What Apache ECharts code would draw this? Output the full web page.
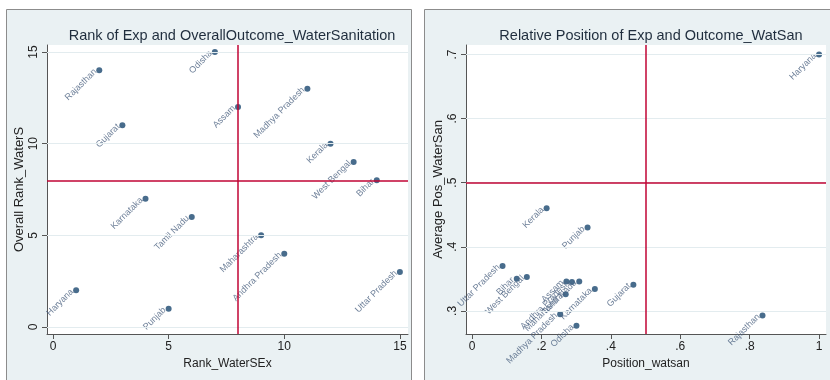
<!DOCTYPE html>
<html>
<head>
<meta charset="utf-8">
<script src="https://cdn.jsdelivr.net/npm/echarts@6/dist/echarts.min.js"></script>
<style>
  html, body { margin: 0; padding: 0; background: #fff; }
  #main { width: 830px; height: 380px; }
</style>
</head>
<body>
<div id="main"></div>
<script>
// states, same order in both panels
var states = ['Odisha', 'Rajasthan', 'Madhya Pradesh', 'Assam', 'Gujarat', 'Kerala', 'West Bengal', 'Bihar',
  'Karnataka', 'Tamil Nadu', 'Maharashtra', 'Andhra Pradesh', 'Uttar Pradesh', 'Haryana', 'Punjab'];

// left panel: ranks
var rankWaterSEx = [7, 2, 11, 8, 3, 12, 13, 14, 4, 6, 9, 10, 15, 1, 5];
var overallRankWaterS = [15, 14, 13, 12, 11, 10, 9, 8, 7, 6, 5, 4, 3, 2, 1];

// right panel: relative positions
var positionWatsan = [0.301, 0.837, 0.254, 0.272, 0.465, 0.215, 0.158, 0.129, 0.354, 0.309, 0.27, 0.288, 0.088, 1.0, 0.333];
var avgPosWaterSan = [0.277, 0.293, 0.295, 0.346, 0.341, 0.46, 0.353, 0.35, 0.334, 0.346, 0.326, 0.345, 0.37, 0.70, 0.43];

// tick labels
var leftXTicks = [0, 5, 10, 15];
var leftYTicks = [0, 5, 10, 15];
var rightXTicks = [0, 0.2, 0.4, 0.6, 0.8, 1];
var rightYTicks = [0.3, 0.4, 0.5, 0.6, 0.7];

// reference lines
var leftRef = {x: 8, y: 8};
var rightRef = {x: 0.5, y: 0.5};

function stataNum(v) {
  // stata style: .4 instead of 0.4
  var s = String(Math.round(v * 100) / 100);
  if (s.indexOf('0.') === 0) s = s.slice(1);
  return s;
}

var font = 'Liberation Sans, Arial, sans-serif';
var markerColor = '#1a476f';
var refColor = '#c10534';

function makeX(idx, min, max, ticks, name) {
  return {
    gridIndex: idx, type: 'value', min: min, max: max,
    name: name, nameLocation: 'middle', nameGap: 22,
    nameTextStyle: {color: '#222', fontSize: 12, fontFamily: font},
    axisLine: {show: true, onZero: false, lineStyle: {color: '#555'}},
    axisTick: {show: true, length: 5, customValues: ticks, lineStyle: {color: '#555'}},
    axisLabel: {customValues: ticks, formatter: stataNum, color: '#222', fontSize: 12, fontFamily: font, margin: 7},
    splitLine: {show: false}
  };
}

function makeY(idx, min, max, ticks, name) {
  return {
    gridIndex: idx, type: 'value', min: min, max: max,
    name: name, nameLocation: 'middle', nameGap: 21,
    nameTextStyle: {color: '#222', fontSize: 13, fontFamily: font},
    axisLine: {show: true, onZero: false, lineStyle: {color: '#555'}},
    axisTick: {show: true, length: 5, customValues: ticks, lineStyle: {color: '#555'}},
    axisLabel: {customValues: ticks, formatter: stataNum, rotate: 90, color: '#222', fontSize: 12, fontFamily: font, margin: 7},
    splitLine: {show: false}
  };
}

function makeSeries(idx, xs, ys, ref, yTicks) {
  var data = [];
  for (var i = 0; i < states.length; i++) data.push([xs[i], ys[i], states[i]]);
  var grid = yTicks.map(function (v) {
    return {yAxis: v, lineStyle: {color: '#e3ecef', width: 1, type: 'solid'}};
  });
  return {
    type: 'scatter', xAxisIndex: idx, yAxisIndex: idx,
    data: data, symbolSize: 6,
    itemStyle: {color: markerColor},
    label: {
      show: true, position: 'left', distance: 1, rotate: 45,
      formatter: function (p) { return p.data[2]; },
      color: '#4a6080', fontSize: 9, fontFamily: font
    },
    markLine: {
      silent: true, symbol: 'none', animation: false,
      label: {show: false},
      data: grid.concat([
        {xAxis: ref.x, lineStyle: {color: refColor, width: 1.5, type: 'solid'}},
        {yAxis: ref.y, lineStyle: {color: refColor, width: 1.5, type: 'solid'}}
      ])
    },
    z: 3
  };
}

var chart = echarts.init(document.getElementById('main'));
chart.setOption({
  animation: false,
  backgroundColor: '#fff',
  graphic: [
    {type: 'rect', shape: {x: 6.5, y: 9.5, width: 405, height: 380}, style: {fill: '#eaf1f3', stroke: '#8c8c8c', lineWidth: 1}, z: -10},
    {type: 'rect', shape: {x: 424.5, y: 9.5, width: 420, height: 380}, style: {fill: '#eaf1f3', stroke: '#8c8c8c', lineWidth: 1}, z: -10}
  ],
  title: [
    {text: 'Rank of Exp and OverallOutcome_WaterSanitation', left: 227, top: 23, textAlign: 'center',
      textStyle: {color: '#1f2d3d', fontSize: 14.5, fontWeight: 'normal', fontFamily: font}},
    {text: 'Relative Position of Exp and Outcome_WatSan', left: 646, top: 23, textAlign: 'center',
      textStyle: {color: '#1f2d3d', fontSize: 14.5, fontWeight: 'normal', fontFamily: font}}
  ],
  grid: [
    {left: 47, top: 45, width: 361, height: 289, show: true, backgroundColor: '#fff', borderWidth: 0},
    {left: 466, top: 45, width: 360, height: 289, show: true, backgroundColor: '#fff', borderWidth: 0}
  ],
  xAxis: [
    makeX(0, -0.26, 15.35, leftXTicks, 'Rank_WaterSEx'),
    makeX(1, -0.0173, 1.02, rightXTicks, 'Position_watsan')
  ],
  yAxis: [
    makeY(0, -0.38, 15.38, leftYTicks, 'Overall Rank_WaterS'),
    makeY(1, 0.264, 0.7148, rightYTicks, 'Average Pos_WaterSan')
  ],
  series: [
    makeSeries(0, rankWaterSEx, overallRankWaterS, leftRef, leftYTicks),
    makeSeries(1, positionWatsan, avgPosWaterSan, rightRef, rightYTicks)
  ]
});
</script>
</body>
</html>
